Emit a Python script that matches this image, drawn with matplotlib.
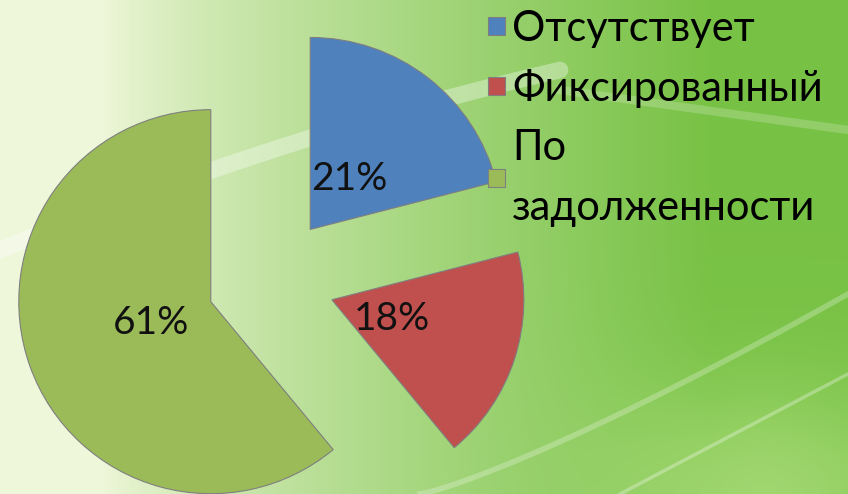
import matplotlib
import numpy as np

matplotlib.use("Agg")
import matplotlib.pyplot as plt

plt.rcParams["font.family"] = ["Lato", "Open Sans", "DejaVu Sans"]

labels = ["Отсутствует", "Фиксированный", "По\nзадолженности"]
shares = [21, 18, 61]
colors = ["#4F81BD", "#C0504D", "#9BBB59"]

W, H = 848, 494

fig = plt.figure(figsize=(W / 100, H / 100), dpi=100)
ax = fig.add_axes([0, 0, 1, 1])

# green background gradient (row 0 = top of picture)
xx, yy = np.meshgrid(np.linspace(0, 1, 400), np.linspace(0, 1, 240))
t = np.clip((xx - 0.12) / 0.72, 0, 1) ** 0.75
pale = np.array([0.94, 0.97, 0.86])
deep = np.array([0.47, 0.76, 0.27])
img = pale * (1 - t[..., None]) + deep * t[..., None]
glow = np.exp(-((xx - 0.9) ** 2 / 0.04 + (yy - 1.0) ** 2 / 0.05))
light = np.array([0.78, 0.92, 0.6])
img = img * (1 - 0.5 * glow[..., None]) + light * 0.5 * glow[..., None]
ax.imshow(img, extent=[0, W, 0, H], aspect="auto", zorder=0, origin="upper")

# light swooshes, drawn in pixel coords from the top
s = np.linspace(0, 1, 200)
ax.plot(s * 560, H - (250 - 230 * s + 50 * s ** 2), color="white", lw=12, alpha=0.35,
        zorder=1, solid_capstyle="round")
ax.plot(560 + s * 288, H - (90 + 40 * s), color="white", lw=6, alpha=0.2, zorder=1)
ax.plot(420 + s * 428, H - (494 - 200 * s ** 1.2), color="white", lw=4, alpha=0.25, zorder=1)
ax.plot(620 + s * 228, H - (494 - 120 * s), color="white", lw=2.5, alpha=0.3, zorder=1)

wedges, texts, autotexts = ax.pie(
    shares,
    colors=colors,
    startangle=90,
    counterclock=False,
    center=(271, H - 280),
    radius=192,
    explode=[64, 64, 64],
    autopct="%.0f%%",
    pctdistance=0.33,
    wedgeprops={"edgecolor": "#7f7f7f", "linewidth": 0.8},
    textprops={"fontsize": 28, "color": "#111111"},
)
for w in wedges:
    w.set_zorder(2)
for tx in autotexts:
    tx.set_zorder(3)

ax.set_xlim(0, W)
ax.set_ylim(0, H)
ax.set_aspect("auto")
ax.axis("off")

leg = ax.legend(
    wedges,
    labels,
    loc="upper left",
    bbox_to_anchor=(484 / W, 1 - 6 / H),
    frameon=False,
    fontsize=30,
    handlelength=0.4,
    handleheight=0.3,
    handletextpad=0.18,
    labelspacing=0.5,
    borderaxespad=0.0,
    borderpad=0.1,
)
leg.get_texts()[2].set_linespacing(1.7)
leg.set_zorder(4)

fig.savefig("out.png", dpi=100)
